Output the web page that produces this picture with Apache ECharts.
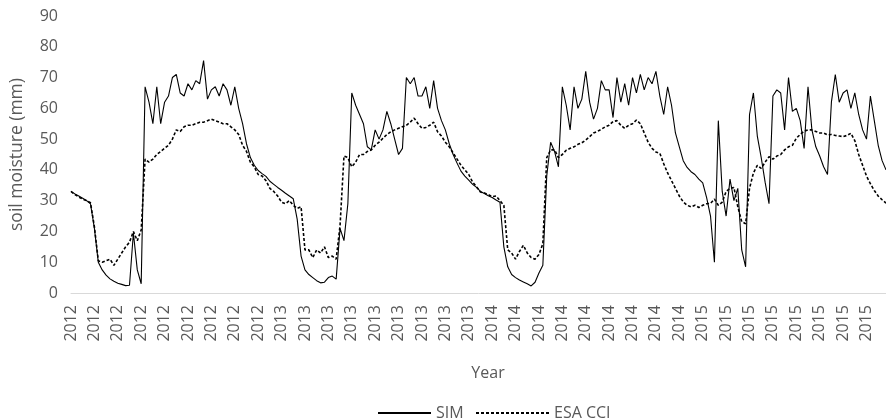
<!DOCTYPE html>
<html>
<head>
<meta charset="utf-8">
<script src="https://cdn.jsdelivr.net/npm/echarts@6/dist/echarts.min.js"></script>
<style>
html,body{margin:0;padding:0;background:#fff;}
#chart{width:886px;height:420px;}
</style>
</head>
<body>
<div id="chart"></div>
<script>
// Tick labels shown along the x axis (one every 6 samples)
const tickYears = [
  '2012','2012','2012','2012','2012','2012','2012','2012','2012',
  '2013','2013','2013','2013','2013','2013','2013','2013','2013',
  '2014','2014','2014','2014','2014','2014','2014','2014','2014',
  '2015','2015','2015','2015','2015','2015','2015','2015'
];
const samplesPerTick = 6;

// SIM soil moisture (mm)
const simValues = [
  33, 32.2, 31.5, 30.8, 30, 29,
  21, 10, 7.5, 5.8, 4.6, 3.8,
  3.2, 2.8, 2.4, 2.5, 19.5, 7.5,
  3, 67, 62, 55, 67, 55,
  62, 64, 70, 71, 65, 64,
  68, 66, 69, 68, 75.5, 63,
  66, 67, 64, 68, 66, 61,
  67, 60, 55, 48.5, 44, 41.5,
  39.8, 38.8, 37.9, 36.3, 35.3, 34.3,
  33.4, 32.4, 31.5, 30.6, 24, 12,
  7.5, 6, 5, 4, 3.3, 3.5,
  5, 5.5, 4.5, 21, 17, 29,
  65, 61, 58, 55, 47.5, 46.5,
  53, 50, 53, 59, 55, 50,
  45, 47, 70, 68, 70, 64,
  64, 67, 60, 69, 60, 56,
  53, 48.5, 45, 42.2, 39.6, 38,
  36.7, 35.3, 34.3, 33, 32.3, 31.6,
  31, 30.2, 29.5, 15, 8.5, 6,
  5, 4.2, 3.6, 3, 2.3, 3.5,
  6.5, 9, 38, 49, 46, 41,
  67, 61, 53, 67, 60, 63,
  72, 62, 56.5, 60, 69, 66,
  66, 57, 70, 62, 68, 61,
  70, 65, 71, 66, 70, 68,
  72, 64, 58, 67, 61, 52,
  47.5, 43, 40.8, 39.4, 38.5, 37,
  35.8, 31, 25, 10, 56, 33,
  25, 37, 30, 34, 14, 8.5,
  58, 65, 51, 44, 36, 29,
  64, 66, 65, 53, 70, 59,
  60, 56, 47, 67, 53, 47.5,
  44.5, 41, 38.5, 62, 71, 62,
  65, 66, 60, 65, 58, 53,
  50, 64, 56, 48, 43, 40
];

// ESA CCI soil moisture (mm)
const esaValues = [
  33, 32, 31.2, 30.5, 30, 29.3,
  21.5, 10.5, 10, 10.5, 11, 9,
  11, 13, 15, 16.5, 20, 17,
  20.5, 43.5, 42.5, 43.5, 45, 46,
  47, 48, 50, 53, 52.5, 54,
  54.5, 54.5, 55, 55.5, 55.5, 56,
  56.5, 56, 55.5, 55, 55, 54,
  53, 51.5, 48, 46, 42.5, 41,
  38.5, 38, 36.5, 34, 33, 31.5,
  29.5, 29, 30, 28.5, 27.5, 28,
  14, 14, 11.5, 14, 13, 15,
  11.5, 12, 11, 22, 44.5, 44,
  41, 42.5, 45, 45, 46, 46.5,
  48, 49, 50.3, 51.5, 52.4, 53,
  53.5, 54, 54.5, 55.5, 56.8, 55,
  53.5, 53.8, 54.5, 55.5, 52.4, 51,
  49, 47.5, 45.5, 43.5, 41.5, 40,
  38.5, 36, 34.5, 32.8, 32.5, 32,
  31.3, 31.5, 30, 28.5, 14, 13,
  11, 13.5, 15.5, 13, 11.5, 11,
  12.5, 16, 44, 46.5, 46.5, 44,
  45, 46.4, 47, 47.5, 48.3, 48.8,
  49.7, 50.8, 52, 52.5, 53.2, 54,
  54.5, 55.7, 56, 54.5, 53.5, 54.5,
  55, 56.2, 55, 52, 49, 47,
  45.8, 45.4, 42, 39, 36.5, 34,
  31.5, 29.6, 28.5, 28, 28.5, 27.8,
  28.5, 29, 29.1, 30.5, 28.5, 29.5,
  33, 34, 34.3, 28, 23.2, 22.5,
  34, 39, 41.5, 40.5, 42.5, 44.3,
  43.5, 44.5, 45, 46.5, 47.5, 48,
  50.3, 51.5, 52.6, 53, 53, 52.5,
  52, 52, 51.4, 51.5, 51.2, 51,
  50.8, 51.2, 51.9, 49.5, 45, 41.5,
  38, 35.5, 33.3, 31.5, 30.3, 29.2
];

const categories = [];
tickYears.forEach(y => { for (let k = 0; k < samplesPerTick; k++) categories.push(y); });

const FONT = 'Open Sans';
const TXT = '#595959';

const legendCommon = {
  top: 400, itemHeight: 12, itemGap: 6,
  itemStyle: {opacity: 0},
  textStyle: {color: TXT, fontFamily: FONT, fontSize: 16}
};

const chart = echarts.init(document.getElementById('chart'), null, {renderer: 'canvas'});
chart.setOption({
  animation: false,
  backgroundColor: '#ffffff',
  grid: {left: 71, right: 0, top: 16, bottom: 127, containLabel: false},
  legend: [
    Object.assign({data: ['SIM'], left: 372, itemWidth: 53}, legendCommon),
    Object.assign({data: ['ESA CCI'], left: 470, itemWidth: 73}, legendCommon)
  ],
  xAxis: {
    type: 'category',
    data: categories,
    boundaryGap: false,
    name: 'Year',
    nameLocation: 'middle',
    nameGap: 72,
    nameTextStyle: {color: TXT, fontFamily: FONT, fontSize: 16, padding: [0, 0, 0, 19]},
    axisLine: {lineStyle: {color: '#d9d9d9', width: 1}},
    axisTick: {show: false},
    axisLabel: {
      interval: samplesPerTick - 1,
      rotate: 90,
      margin: 12,
      color: TXT,
      fontFamily: FONT,
      fontSize: 16
    },
    splitLine: {show: false}
  },
  yAxis: {
    type: 'value',
    min: 0, max: 90, interval: 10,
    name: 'soil moisture (mm)',
    nameLocation: 'middle',
    nameGap: 45,
    nameTextStyle: {color: TXT, fontFamily: FONT, fontSize: 17.5},
    axisLine: {show: false},
    axisTick: {show: false},
    axisLabel: {color: TXT, fontFamily: FONT, fontSize: 16, margin: 13},
    splitLine: {show: false}
  },
  series: [
    {
      name: 'SIM', type: 'line', data: simValues,
      showSymbol: false, symbol: 'none',
      lineStyle: {color: '#000', width: 1.1, type: 'solid'},
      itemStyle: {color: '#000'}
    },
    {
      name: 'ESA CCI', type: 'line', data: esaValues,
      showSymbol: false, symbol: 'none',
      lineStyle: {color: '#000', width: 1.6, type: [3, 2]},
      itemStyle: {color: '#000'}
    }
  ]
});
</script>
</body>
</html>
